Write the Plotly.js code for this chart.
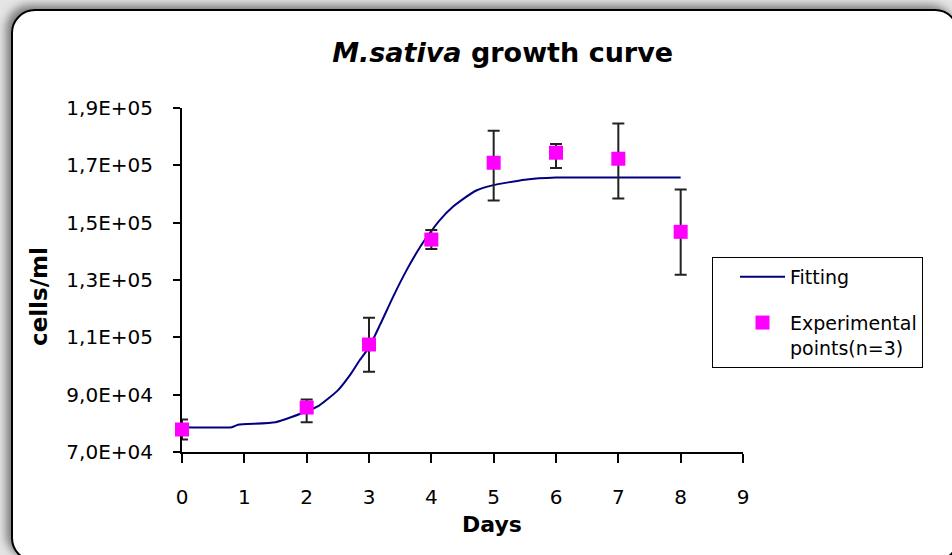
<!DOCTYPE html>
<html>
<head>
<meta charset="utf-8">
<script src="https://cdn.plot.ly/plotly-3.0.1.min.js"></script>
<style>
  html, body { margin: 0; padding: 0; width: 952px; height: 555px; overflow: hidden; background: #e4e4e4; }
  #frame {
    position: absolute; left: 11px; top: 9px; width: 944px; height: 549px;
    background: #ffffff; border: 2.5px solid #000; border-radius: 24px;
    box-shadow: -5px -4px 8px rgba(0,0,0,0.45);
  }
  #chart { position: absolute; left: 0; top: 0; width: 952px; height: 555px; }
</style>
</head>
<body>
<div id="frame"></div>
<div id="chart"></div>
<script>
// Fitted growth curve (cells/ml vs days)
const fitDays  = [0, 0.8, 0.9, 1.5, 2.0, 2.2, 2.5, 2.7, 2.85, 3.0, 3.18, 3.39, 3.61, 3.82, 3.98, 4.14, 4.35, 4.48, 4.73, 4.98, 5.5, 6.0, 7.0, 8.0];
const fitCells = [78650, 78650, 79500, 80400, 84200, 86200, 91500, 97000, 102000, 106500, 114500, 124300, 133700, 141500, 146500, 151000, 155600, 157800, 161300, 163000, 165000, 165750, 165750, 165750];

// Experimental means (n=3) with error bars
const expDays  = [0, 2, 3, 4, 5, 6, 7, 8];
const expCells = [77850, 85500, 107500, 144100, 170900, 174400, 172300, 146800];
const errPlus  = [3500, 2800, 9300, 3300, 11200, 3000, 12300, 14800];
const errMinus = [3500, 5100, 9500, 3300, 13200, 5300, 13900, 15000];

// Axis ticks
const yTickVals = [70000, 90000, 110000, 130000, 150000, 170000, 190000];
const yTickText = ['7,0E+04', '9,0E+04', '1,1E+05', '1,3E+05', '1,5E+05', '1,7E+05', '1,9E+05'];
const xTickVals = [0, 1, 2, 3, 4, 5, 6, 7, 8, 9];

const FONT = 'DejaVu Sans, Liberation Sans, sans-serif';

const traces = [
  {
    x: fitDays, y: fitCells, type: 'scatter', mode: 'lines', name: 'Fitting',
    line: { color: '#000080', width: 2, shape: 'spline', smoothing: 0.5 },
    legendgroup: 'a', hoverinfo: 'skip'
  },
  {
    x: expDays, y: expCells, type: 'scatter', mode: 'markers',
    name: 'Experimental<br>points(n=3)',
    marker: { symbol: 'square', size: 14, color: '#FF00FF' },
    error_y: { type: 'data', symmetric: false, array: errPlus, arrayminus: errMinus,
               color: '#222222', thickness: 2, width: 6 },
    cliponaxis: false, legendgroup: 'b'
  }
];

const layout = {
  width: 952, height: 555,
  paper_bgcolor: 'rgba(0,0,0,0)', plot_bgcolor: 'rgba(0,0,0,0)',
  margin: { l: 182, r: 209, t: 108, b: 103, pad: 0 },
  font: { family: FONT, color: '#000' },
  title: {
    text: '<i>M.sativa</i> growth curve',
    font: { family: FONT, size: 27, weight: 'bold', color: '#000' },
    x: 0.528, xanchor: 'center', y: 0.906, yanchor: 'middle', yref: 'container'
  },
  xaxis: {
    range: [0, 9], tickvals: xTickVals, ticks: 'outside', ticklen: 9, tickwidth: 2, tickcolor: '#000',
    showline: true, linecolor: '#000', linewidth: 2, showgrid: false, zeroline: false,
    tickfont: { family: FONT, size: 20 }, ticklabelstandoff: 17, layer: 'below traces', fixedrange: true
  },
  yaxis: {
    range: [70000, 190000], tickvals: yTickVals, ticktext: yTickText, ticks: 'outside', ticklen: 7,
    tickwidth: 2, tickcolor: '#000',
    showline: true, linecolor: '#000', linewidth: 2, showgrid: false, zeroline: false,
    tickfont: { family: FONT, size: 20 }, ticklabelstandoff: 16, layer: 'below traces', fixedrange: true
  },
  annotations: [
    { text: '<b>Days</b>', xref: 'paper', yref: 'paper', x: (492 - 182) / 561, y: (452 - 524) / 344,
      xanchor: 'center', yanchor: 'middle', showarrow: false, font: { family: FONT, size: 22 } },
    { text: '<b>cells/ml</b>', xref: 'paper', yref: 'paper', x: (39 - 182) / 561, y: (452 - 297) / 344,
      xanchor: 'center', yanchor: 'middle', showarrow: false, textangle: -90, font: { family: FONT, size: 23 } }
  ],
  showlegend: true,
  legend: {
    x: (712 - 182) / 561, y: (452 - 257) / 344, xanchor: 'left', yanchor: 'top',
    bgcolor: '#ffffff', bordercolor: '#000', borderwidth: 1,
    font: { family: FONT, size: 19, color: '#000' },
    traceorder: 'grouped', tracegroupgap: 18, valign: 'top', indentation: 22, itemwidth: 45
  }
};

Plotly.newPlot('chart', traces, layout, { displayModeBar: false, staticPlot: true });
</script>
</body>
</html>
